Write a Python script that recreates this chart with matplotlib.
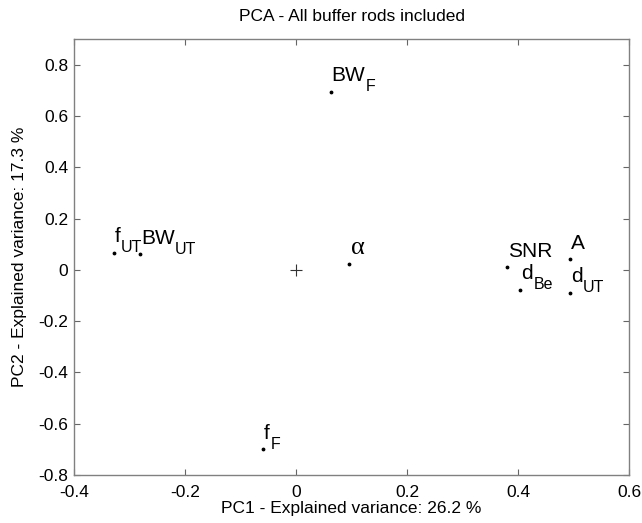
import matplotlib
matplotlib.use("Agg")
import matplotlib.pyplot as plt

# PCA loadings
names = ["BW", "f", "BW", "α", "SNR", "d", "A", "d", "f"]
subs = ["F", "UT", "UT", "", "", "Be", "", "UT", "F"]
pc1 = [0.063, -0.328, -0.281, 0.095, 0.380, 0.404, 0.494, 0.494, -0.059]
pc2 = [0.695, 0.066, 0.062, 0.022, 0.011, -0.077, 0.042, -0.090, -0.699]

xticks = [-0.4, -0.2, 0, 0.2, 0.4, 0.6]
yticks = [-0.8, -0.6, -0.4, -0.2, 0, 0.2, 0.4, 0.6, 0.8]

plt.rcParams['font.family'] = ['Liberation Sans', 'DejaVu Sans']

fig = plt.figure(figsize=(6.42, 5.23), dpi=100)
ax = fig.add_axes([0.1153, 0.0918, 0.8645, 0.8336])

# centre cross and loading points
ax.plot([0], [0], '+', color='#333333', markersize=8, markeredgewidth=0.8)
ax.plot(pc1, pc2, '.', color='black', markersize=3.5, linestyle='none')

ax.set_xlim(-0.4, 0.6)
ax.set_ylim(-0.8, 0.9)

renderer = fig.canvas.get_renderer()
for x, y, name, sub in zip(pc1, pc2, names, subs):
    if name == "α":
        # greek letter is drawn bigger and in a serif face
        ax.annotate(name, (x, y), xytext=(1.5, 7.5), textcoords='offset points',
                    fontsize=19, ha='left', va='baseline', family=['Liberation Serif'])
        continue
    t = ax.annotate(name, (x, y), xytext=(0.5, 7.5), textcoords='offset points',
                    fontsize=15, ha='left', va='baseline')
    if sub:
        w = t.get_window_extent(renderer).width * 72 / fig.dpi
        ax.annotate(sub, (x, y), xytext=(0.5 + w + 0.5, 0.3), textcoords='offset points',
                    fontsize=11.5, ha='left', va='baseline')

ax.set_xticks(xticks)
ax.set_yticks(yticks)
ax.set_xticklabels(['-0.4', '-0.2', '0', '0.2', '0.4', '0.6'])
ax.set_yticklabels(['-0.8', '-0.6', '-0.4', '-0.2', '0', '0.2', '0.4', '0.6', '0.8'])
ax.tick_params(direction='in', length=4, width=0.8, color='#666666',
               top=True, right=True, labelsize=12.5)
ax.tick_params(axis='x', pad=7)
ax.tick_params(axis='y', pad=4)
for s in ax.spines.values():
    s.set_color('#808080')
    s.set_linewidth(1.0)

ax.set_title('PCA - All buffer rods included', fontsize=12.5, pad=13)
ax.set_xlabel('PC1 - Explained variance: 26.2 %', fontsize=12.5, labelpad=1)
ax.set_ylabel('PC2 - Explained variance: 17.3 %', fontsize=12.5, labelpad=8)

fig.savefig('out.png', dpi=100)
plt.close(fig)
